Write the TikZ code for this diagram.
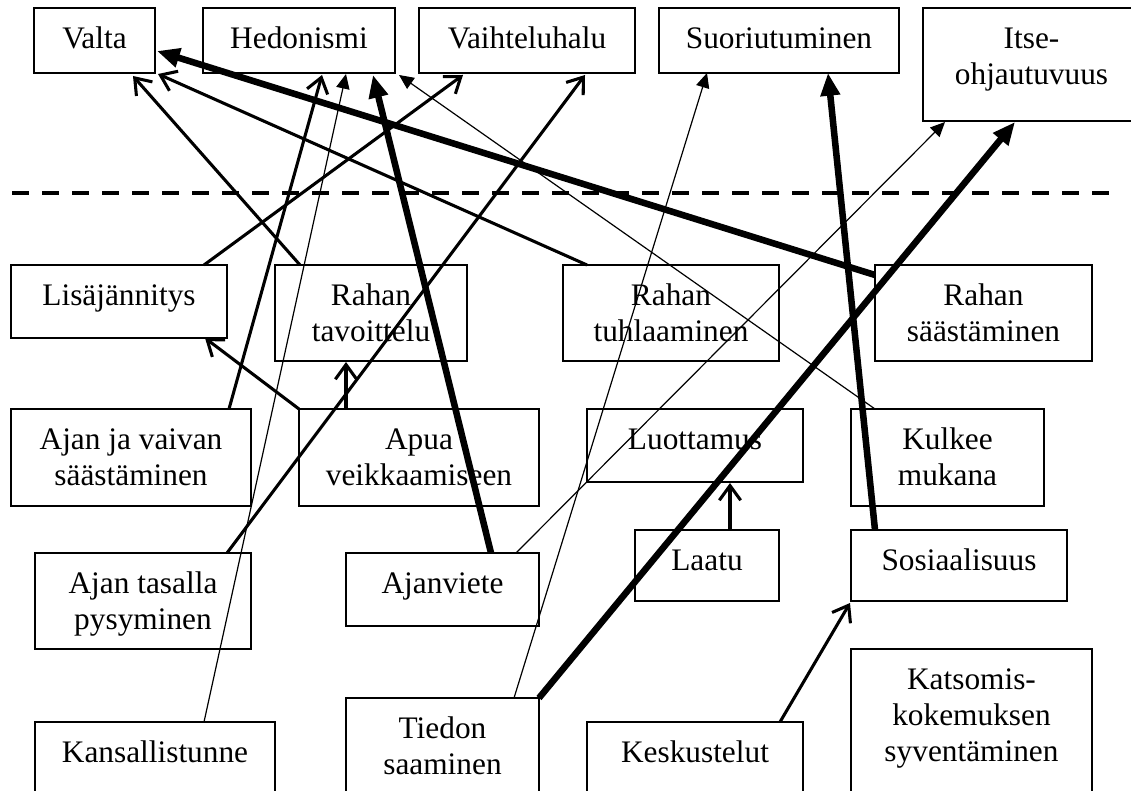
\documentclass[tikz,border=0pt]{standalone}
\usepackage{fontspec}
\setmainfont{Liberation Serif}
\usetikzlibrary{arrows.meta,calc,fit}
% label placed in the upper part of a box, first baseline 40px below its top
\newcommand\boxlabel[2]{\node[lbl] (#1-t) at ([yshift=-10pt]#1.north) {\rule{0pt}{20pt}#2};}
\begin{document}
\begin{tikzpicture}[x=0.75pt,y=-0.75pt,
  box/.style={draw, line width=0.9pt, inner sep=0pt, outer sep=0pt},
  lbl/.style={anchor=north, align=center, inner sep=0pt, font=\fontsize{23.5}{27}\selectfont},
  lightlink/.style={line width=0.9pt, -{Triangle[length=11pt,width=10pt]}},
  midlink/.style={line width=2.3pt, -{Straight Barb[length=11pt,width=16pt]}},
  heavylink/.style={line width=4.9pt, -{Triangle[length=17pt,width=14pt]}},
  divider/.style={line width=2.6pt, dash pattern=on 12.5pt off 10pt}]
\useasboundingbox (0,0) rectangle (1131,791);
\fill[white] (0,0) rectangle (1131,791);
\clip (0,0) rectangle (1131,791);

% values (top row)
\node[box, fit={(34,8) (155,73)}] (valta) {};
\node[box, fit={(203,8) (395,73)}] (hed) {};
\node[box, fit={(419,8) (635,73)}] (vaiht) {};
\node[box, fit={(659,8) (899,73)}] (suor) {};
\node[box, fit={(923,8) (1140,121)}] (itse) {};

% separator between values and motives
\coordinate (sepL) at (12,193);
\coordinate (sepR) at (1117,193);
\draw[divider] (sepL) -- (sepR);

% motives
\node[box, fit={(11,265) (227,338)}] (lisa) {};
\node[box, fit={(275,265) (467,361)}] (tav) {};
\node[box, fit={(563,265) (779,361)}] (tuhl) {};
\node[box, fit={(875,265) (1092,361)}] (saast) {};

\node[box, fit={(11,409) (251,506)}] (ajanvaiva) {};
\node[box, fit={(299,409) (539,506)}] (apua) {};
\node[box, fit={(587,409) (803,482)}] (luott) {};
\node[box, fit={(851,409) (1044,506)}] (kulkee) {};

\node[box, fit={(35,553) (251,649)}] (tasalla) {};
\node[box, fit={(346,553) (539,626)}] (ajanviete) {};
\node[box, fit={(635,530) (779,601)}] (laatu) {};
\node[box, fit={(851,530) (1067,601)}] (sos) {};

\node[box, fit={(35,722) (275,800)}] (kans) {};
\node[box, fit={(346,698) (539,800)}] (tiedon) {};
\node[box, fit={(587,722) (803,800)}] (kesk) {};
\node[box, fit={(851,649) (1092,800)}] (katso) {};

\boxlabel{valta}{Valta}
\boxlabel{hed}{Hedonismi}
\boxlabel{vaiht}{Vaihteluhalu}
\boxlabel{suor}{Suoriutuminen}
\boxlabel{itse}{Itse-\\ohjautuvuus}
\boxlabel{lisa}{Lisäjännitys}
\boxlabel{tav}{Rahan\\tavoittelu}
\boxlabel{tuhl}{Rahan\\tuhlaaminen}
\boxlabel{saast}{Rahan\\säästäminen}
\boxlabel{ajanvaiva}{Ajan ja vaivan\\säästäminen}
\boxlabel{apua}{Apua\\veikkaamiseen}
\boxlabel{luott}{Luottamus}
\boxlabel{kulkee}{Kulkee\\mukana}
\boxlabel{tasalla}{Ajan tasalla\\pysyminen}
\boxlabel{ajanviete}{Ajanviete}
\boxlabel{laatu}{Laatu}
\boxlabel{sos}{Sosiaalisuus}
\boxlabel{kans}{Kansallistunne}
\boxlabel{tiedon}{Tiedon\\saaminen}
\boxlabel{kesk}{Keskustelut}
\boxlabel{katso}{Katsomis-\\kokemuksen\\syventäminen}

% links between motives and values
\draw[heavylink] ($(saast.north west)+(0,10)$) -- ($(valta.north east)+(2,43)$);
\draw[midlink] ($(tuhl.north west)+(24,0)$) -- ($(valta.south east)+(3,1)$);
\draw[midlink] ($(tav.north west)+(25,0)$) -- ($(valta.south east)+(-22,3)$);
\draw[midlink] ($(lisa.north west)+(193,0)$) -- ($(vaiht.south west)+(44,2)$);
\draw[midlink] ($(ajanvaiva.north west)+(218,0)$) -- ($(hed.south west)+(119,2)$);
\draw[lightlink] ($(kans.north west)+(169,0)$) -- ($(hed.south west)+(143,1)$);
\draw[heavylink] ($(ajanviete.north west)+(145,0)$) -- ($(hed.south west)+(170,2)$);
\draw[lightlink] ($(kulkee.north west)+(24,0)$) -- ($(hed.south east)+(4,2)$);
\draw[midlink] ($(tasalla.north west)+(192,0)$) -- ($(vaiht.south west)+(166,2)$);
\draw[lightlink] ($(tiedon.north west)+(168,0)$) -- ($(suor.south west)+(48,0)$);
\draw[heavylink] ($(sos.north west)+(24,0)$) -- ($(suor.south west)+(169,0)$);
\draw[lightlink] ($(ajanviete.north west)+(170,0)$) -- ($(itse.south west)+(22,1)$);
\draw[heavylink] (tiedon.north east) -- ($(itse.south west)+(92,1)$);

% links among motives
\draw[midlink] (apua.north west) -- ($(lisa.south west)+(194,0)$);
\draw[midlink] ($(apua.north west)+(47,0)$) -- ($(tav.south west)+(71,1)$);
\draw[midlink] ($(laatu.north west)+(95,0)$) -- ($(luott.south west)+(143,1)$);
\draw[midlink] ($(kesk.north west)+(193,0)$) -- ($(sos.south west)+(-1,2)$);
\end{tikzpicture}
\end{document}
